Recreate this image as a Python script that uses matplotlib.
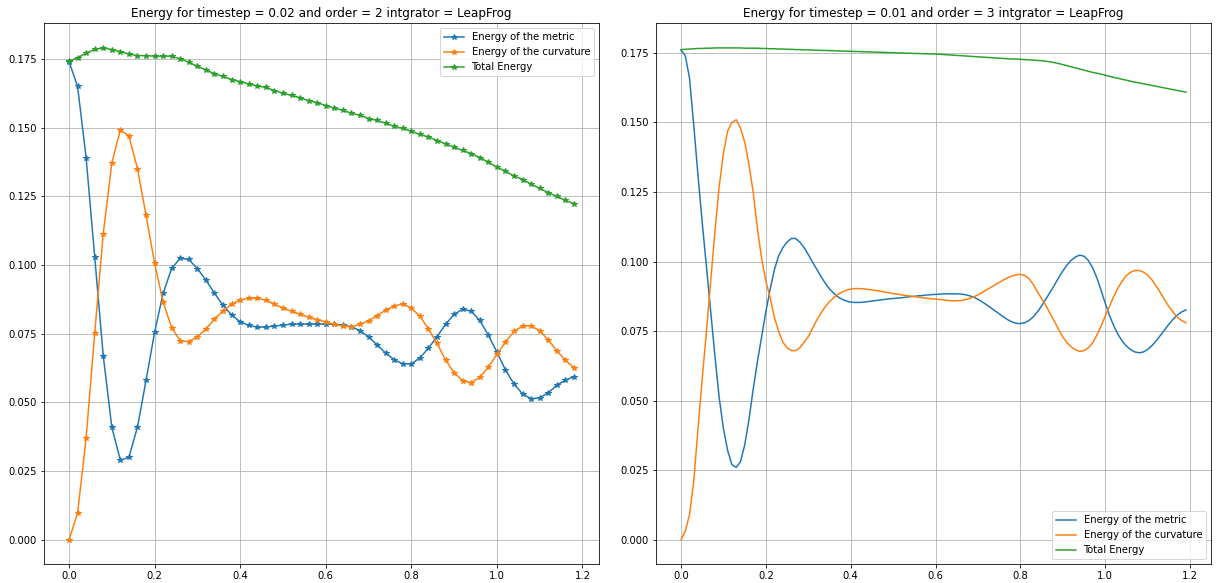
import numpy as np
import matplotlib
matplotlib.use("Agg")
import matplotlib.pyplot as plt

# Panel izquierdo: timestep 0.02, order 2
t_izq = np.round(np.arange(60) * 0.02, 2)

metrica_izq = [0.174, 0.165, 0.139, 0.103, 0.067, 0.041, 0.029, 0.030, 0.041, 0.058,
               0.0755, 0.0897, 0.0988, 0.1025, 0.102, 0.0987, 0.0945, 0.0897, 0.0853, 0.0818,
               0.0793, 0.078, 0.0774, 0.0774, 0.0778, 0.0781, 0.0785, 0.0785, 0.0785, 0.0785,
               0.0785, 0.0784, 0.0781, 0.0775, 0.0761, 0.0739, 0.0709, 0.068, 0.0655, 0.064,
               0.064, 0.0662, 0.0697, 0.0739, 0.0784, 0.082, 0.0839, 0.0832, 0.0798, 0.0745,
               0.0683, 0.0618, 0.0567, 0.0531, 0.0513, 0.0517, 0.0535, 0.0562, 0.0581, 0.0593]

curvatura_izq = [0.0, 0.0097, 0.0371, 0.0751, 0.1114, 0.1371, 0.1492, 0.1469, 0.1351, 0.1181,
                 0.1007, 0.0865, 0.0771, 0.0724, 0.0721, 0.0739, 0.0767, 0.0803, 0.0833, 0.0858,
                 0.0872, 0.0879, 0.0879, 0.0872, 0.0858, 0.0843, 0.0832, 0.082, 0.0811, 0.0801,
                 0.0792, 0.0784, 0.0778, 0.0775, 0.0784, 0.0797, 0.0816, 0.0836, 0.085, 0.0859,
                 0.0843, 0.0814, 0.0767, 0.0715, 0.0654, 0.0608, 0.0579, 0.0572, 0.0591, 0.0628,
                 0.0675, 0.0719, 0.0758, 0.0778, 0.0778, 0.0761, 0.0727, 0.0688, 0.0654, 0.0626]

total_izq = [0.1742, 0.1754, 0.1771, 0.1785, 0.1790, 0.1784, 0.1776, 0.1768, 0.1762, 0.1762,
             0.1760, 0.1760, 0.1760, 0.1750, 0.1738, 0.1723, 0.1710, 0.1696, 0.1686, 0.1675,
             0.1667, 0.1659, 0.1652, 0.1646, 0.1635, 0.1625, 0.1617, 0.1609, 0.1598, 0.1591,
             0.1580, 0.1571, 0.1563, 0.1552, 0.1545, 0.1533, 0.1526, 0.1516, 0.1505, 0.1497,
             0.1487, 0.1475, 0.1466, 0.1453, 0.1441, 0.1429, 0.1417, 0.1405, 0.1391, 0.1374,
             0.1356, 0.1341, 0.1324, 0.1311, 0.1294, 0.1279, 0.1263, 0.1250, 0.1235, 0.1223]

# Panel derecho: timestep 0.01, order 3
t_der = np.round(np.arange(120) * 0.01, 2)

metrica_der = [0.176, 0.174, 0.166, 0.149, 0.131, 0.114, 0.098, 0.082, 0.066, 0.051,
               0.040, 0.032, 0.027, 0.026, 0.028, 0.034, 0.043, 0.054, 0.064, 0.073,
               0.082, 0.090, 0.097, 0.102, 0.105, 0.107, 0.1083, 0.1083, 0.107, 0.105,
               0.1025, 0.0998, 0.0972, 0.0946, 0.0922, 0.0902, 0.0886, 0.0873, 0.0864, 0.0858,
               0.0854, 0.0853, 0.0853, 0.0854, 0.0856, 0.0858, 0.0860, 0.0862, 0.0864, 0.0866,
               0.0867, 0.0869, 0.0870, 0.0872, 0.0874, 0.0875, 0.0877, 0.0878, 0.0880, 0.0881,
               0.0882, 0.0883, 0.0884, 0.0884, 0.0884, 0.0884, 0.0883, 0.0881, 0.0877, 0.0872,
               0.0864, 0.0855, 0.0845, 0.0834, 0.0823, 0.0812, 0.0801, 0.0791, 0.0783, 0.0778,
               0.0777, 0.0780, 0.0788, 0.0801, 0.0819, 0.0841, 0.0865, 0.0890, 0.0915, 0.0942,
               0.0966, 0.0988, 0.1005, 0.1017, 0.1023, 0.1019, 0.1004, 0.0978, 0.0942, 0.0897,
               0.0850, 0.0806, 0.0769, 0.0738, 0.0714, 0.0696, 0.0683, 0.0675, 0.0672, 0.0675,
               0.0684, 0.0698, 0.0715, 0.0735, 0.0755, 0.0775, 0.0793, 0.0808, 0.0819, 0.0826]

curvatura_der = [0.000, 0.003, 0.009, 0.021, 0.040, 0.058, 0.075, 0.093, 0.111, 0.127,
                 0.139, 0.147, 0.150, 0.151, 0.148, 0.143, 0.135, 0.125, 0.112, 0.101,
                 0.093, 0.087, 0.080, 0.075, 0.071, 0.069, 0.068, 0.068, 0.069, 0.071,
                 0.073, 0.076, 0.079, 0.0815, 0.0838, 0.0856, 0.0870, 0.0882, 0.0891, 0.0897,
                 0.0901, 0.0903, 0.0903, 0.0902, 0.0900, 0.0898, 0.0896, 0.0893, 0.0891, 0.0888,
                 0.0885, 0.0883, 0.0880, 0.0878, 0.0876, 0.0874, 0.0872, 0.0870, 0.0868, 0.0866,
                 0.0865, 0.0864, 0.0862, 0.0860, 0.0859, 0.0859, 0.0860, 0.0863, 0.0867, 0.0873,
                 0.0880, 0.0889, 0.0898, 0.0907, 0.0916, 0.0925, 0.0934, 0.0942, 0.0948, 0.0952,
                 0.0954, 0.0950, 0.0939, 0.0918, 0.0892, 0.0866, 0.0842, 0.0814, 0.0785, 0.0756,
                 0.0729, 0.0708, 0.0693, 0.0683, 0.0677, 0.0680, 0.0690, 0.0707, 0.0735, 0.0768,
                 0.0805, 0.0840, 0.0875, 0.0905, 0.0930, 0.0950, 0.0962, 0.0968, 0.0968, 0.0962,
                 0.0951, 0.0934, 0.0912, 0.0888, 0.0862, 0.0838, 0.0818, 0.0800, 0.0788, 0.0780]

total_der = [0.1762, 0.1763, 0.1764, 0.1765, 0.1766, 0.1766, 0.1767, 0.1767, 0.1768, 0.1768,
             0.1768, 0.1768, 0.1768, 0.1768, 0.1768, 0.1767, 0.1767, 0.1767, 0.1767, 0.1766,
             0.1766, 0.1765, 0.1765, 0.1764, 0.1764, 0.1763, 0.1763, 0.1762, 0.1762, 0.1761,
             0.1761, 0.1760, 0.1760, 0.1759, 0.1759, 0.1758, 0.1758, 0.1757, 0.1757, 0.1756,
             0.1756, 0.1755, 0.1755, 0.1754, 0.1754, 0.1753, 0.1753, 0.1752, 0.1752, 0.1751,
             0.1751, 0.1750, 0.1750, 0.1749, 0.1749, 0.1748, 0.1748, 0.1747, 0.1747, 0.1746,
             0.1746, 0.1745, 0.1744, 0.1743, 0.1742, 0.1741, 0.1740, 0.1739, 0.1738, 0.1737,
             0.1736, 0.1735, 0.1734, 0.1733, 0.1732, 0.1731, 0.1730, 0.1729, 0.1728, 0.1728,
             0.1727, 0.1726, 0.1725, 0.1724, 0.1723, 0.1722, 0.1720, 0.1718, 0.1715, 0.1712,
             0.1708, 0.1704, 0.1700, 0.1696, 0.1692, 0.1688, 0.1684, 0.1680, 0.1677, 0.1674,
             0.1670, 0.1666, 0.1662, 0.1659, 0.1655, 0.1652, 0.1648, 0.1645, 0.1642, 0.1639,
             0.1636, 0.1633, 0.1630, 0.1627, 0.1624, 0.1621, 0.1618, 0.1615, 0.1612, 0.1609]

# Figura guardada a 72 dpi para que textos y lineas tengan la escala del original
fig, (ax1, ax2) = plt.subplots(1, 2, figsize=(1216 / 72, 583 / 72), dpi=72)
fig.subplots_adjust(left=0.036, right=0.996, bottom=0.032, top=0.96, wspace=0.102)

# Izquierda: con marcadores estrella
ax1.plot(t_izq, metrica_izq, '*-', label="Energy of the metric")
ax1.plot(t_izq, curvatura_izq, '*-', label="Energy of the curvature")
ax1.plot(t_izq, total_izq, '*-', label="Total Energy")
ax1.set_title("Energy for timestep = 0.02 and order = 2 intgrator = LeapFrog")
ax1.grid(True)
ax1.legend(loc="upper right")

# Derecha: solo lineas
ax2.plot(t_der, metrica_der, label="Energy of the metric")
ax2.plot(t_der, curvatura_der, label="Energy of the curvature")
ax2.plot(t_der, total_der, label="Total Energy")
ax2.set_title("Energy for timestep = 0.01 and order = 3 intgrator = LeapFrog")
ax2.grid(True)
ax2.legend(loc="lower right")

plt.savefig("out.png", dpi=72)
